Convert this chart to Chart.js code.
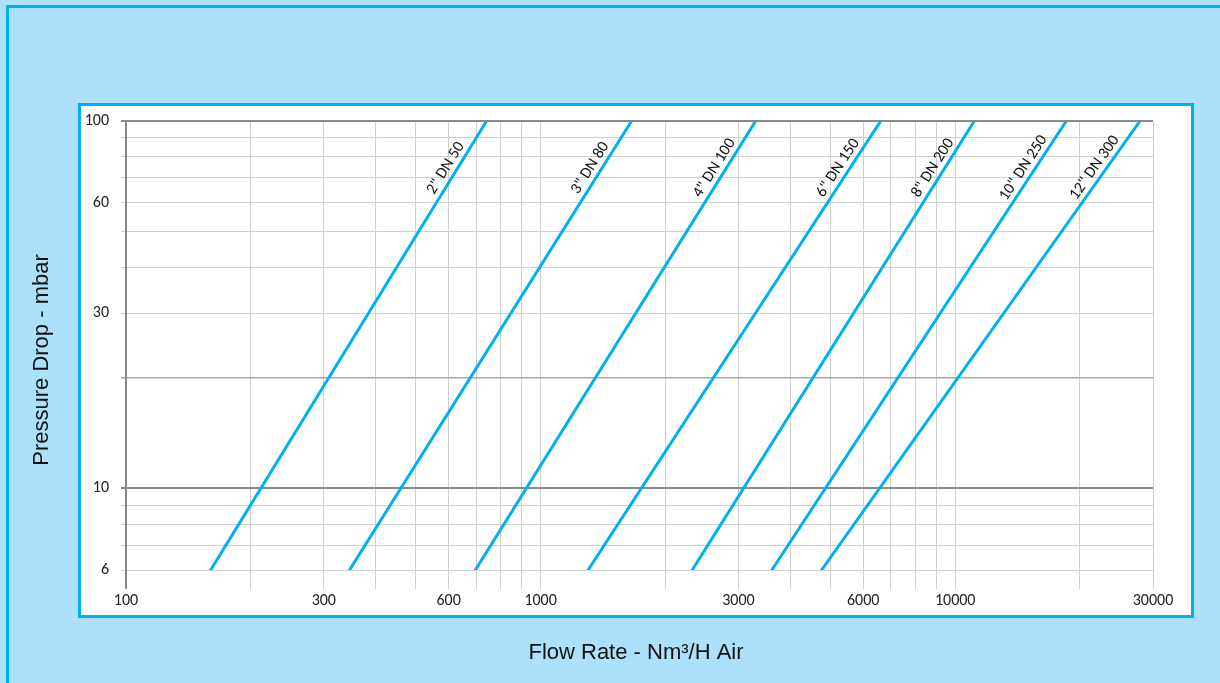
<!DOCTYPE html>
<html>
<head>
<meta charset="utf-8">
<script src="https://cdn.jsdelivr.net/npm/chart.js@4.4.1/dist/chart.umd.min.js"></script>
<style>
  html, body { margin: 0; padding: 0; background: #ADE1FB; }
  canvas { display: block; }
</style>
</head>
<body>
<canvas id="c" width="1220" height="683"></canvas>
<script>
// ---- data ----
const sizes = ['2" DN 50', '3" DN 80', '4" DN 100', '6" DN 150', '8" DN 200', '10" DN 250', '12" DN 300'];
const flowAtLow = [160, 346, 696, 1302, 2321, 3612, 4762];       // Nm3/h at 6 mbar
const flowAtHigh = [741, 1658, 3303, 6613, 11123, 18535, 27914]; // Nm3/h at 100 mbar
const pressureEnds = [6, 100];
const xTickValues = [100, 200, 300, 400, 500, 600, 700, 800, 900, 1000, 2000, 3000, 4000, 5000, 6000, 7000, 8000, 9000, 10000, 20000, 30000];
const xTickLabels = [100, 300, 600, 1000, 3000, 6000, 10000, 30000];
const yTickValues = [6, 7, 8, 9, 10, 20, 30, 40, 50, 60, 70, 80, 90, 100];
const yTickLabels = [6, 10, 30, 60, 100];
const labelPressure = 72;

const lineColor = '#00B0F0';
const fontFamily = 'Carlito, Lato, "Open Sans", sans-serif';
const tickFont = { family: fontFamily, size: 16 };

const datasets = sizes.map((name, i) => ({
  label: name,
  data: [
    { x: flowAtLow[i], y: pressureEnds[0] },
    { x: flowAtHigh[i], y: pressureEnds[1] }
  ],
  borderColor: lineColor,
  borderWidth: 3,
  pointRadius: 0,
  tension: 0,
  clip: 0,
  borderCapStyle: 'round'
}));

const framePlugin = {
  id: 'frame',
  beforeDraw(chart) {
    const ctx = chart.ctx;
    ctx.save();
    ctx.fillStyle = '#ADE1FB';
    ctx.fillRect(0, 0, 1220, 683);
    ctx.strokeStyle = lineColor;
    ctx.lineWidth = 3;
    ctx.beginPath();
    ctx.moveTo(7.5, 683);
    ctx.lineTo(7.5, 6.5);
    ctx.lineTo(1220, 6.5);
    ctx.stroke();
    ctx.fillStyle = '#ffffff';
    ctx.fillRect(79.5, 104.5, 1113, 512);
    ctx.strokeRect(79.5, 104.5, 1113, 512);
    ctx.restore();
  },
  afterDatasetsDraw(chart) {
    const ctx = chart.ctx;
    const ys = chart.scales.y;
    ctx.save();
    ctx.fillStyle = '#111';
    ctx.font = '16px ' + fontFamily;
    chart.data.datasets.forEach((ds, i) => {
      const pts = chart.getDatasetMeta(i).data;
      const p0 = pts[0], p1 = pts[1];
      const yPix = ys.getPixelForValue(labelPressure);
      const t = (p0.y - yPix) / (p0.y - p1.y);
      const x = p0.x + t * (p1.x - p0.x);
      const ang = Math.atan2(p1.y - p0.y, p1.x - p0.x);
      ctx.save();
      ctx.translate(x, yPix);
      ctx.rotate(ang);
      ctx.textAlign = 'center';
      ctx.textBaseline = 'bottom';
      ctx.fillText(ds.label, 0, -2);
      ctx.restore();
    });
    ctx.restore();
  },
  afterDraw(chart) {
    const ctx = chart.ctx;
    ctx.save();
    ctx.fillStyle = '#111';
    ctx.font = '22px "Liberation Sans", Arial, sans-serif';
    ctx.textAlign = 'center';
    ctx.textBaseline = 'middle';
    ctx.fillText('Flow Rate - Nm³/H Air', 636, 653);
    ctx.translate(42, 360);
    ctx.rotate(-Math.PI / 2);
    ctx.fillText('Pressure Drop - mbar', 0, 0);
    ctx.restore();
  }
};

new Chart(document.getElementById('c'), {
  type: 'line',
  data: { datasets },
  plugins: [framePlugin],
  options: {
    responsive: false,
    animation: false,
    devicePixelRatio: 1,
    layout: { padding: { left: 0, top: 121, right: 67, bottom: 0 } },
    plugins: { legend: { display: false }, tooltip: { enabled: false } },
    scales: {
      x: {
        type: 'logarithmic',
        min: 100,
        max: 30000,
        afterBuildTicks: (s) => { s.ticks = xTickValues.map(v => ({ value: v })); },
        afterFit: (s) => { s.height = 113; },
        border: { display: false },
        grid: {
          color: (c) => c.tick && c.tick.value === 100 ? '#8a8a8a' : '#cfcfcf',
          lineWidth: (c) => c.tick && c.tick.value === 100 ? 2 : 1,
          tickLength: 19
        },
        ticks: {
          autoSkip: false,
          maxRotation: 0,
          minRotation: 0,
          padding: 2,
          color: '#222',
          font: tickFont,
          callback: (v) => xTickLabels.includes(v) ? String(v) : ''
        }
      },
      y: {
        type: 'logarithmic',
        min: 6,
        max: 100,
        afterBuildTicks: (s) => { s.ticks = yTickValues.map(v => ({ value: v })); },
        afterFit: (s) => { s.width = 126; },
        border: { display: true, color: '#8a8a8a', width: 2 },
        grid: {
          color: (c) => {
            const v = c.tick && c.tick.value;
            if (v === 10 || v === 100) return '#8a8a8a';
            if (v === 20) return '#a8a8a8';
            return '#cfcfcf';
          },
          lineWidth: (c) => {
            const v = c.tick && c.tick.value;
            if (v === 10 || v === 100) return 2;
            if (v === 20) return 1.5;
            return 1;
          },
          tickLength: 5
        },
        ticks: {
          autoSkip: false,
          padding: 12,
          color: '#222',
          font: tickFont,
          callback: (v) => yTickLabels.includes(v) ? String(v) : ''
        }
      }
    }
  }
});
</script>
</body>
</html>
